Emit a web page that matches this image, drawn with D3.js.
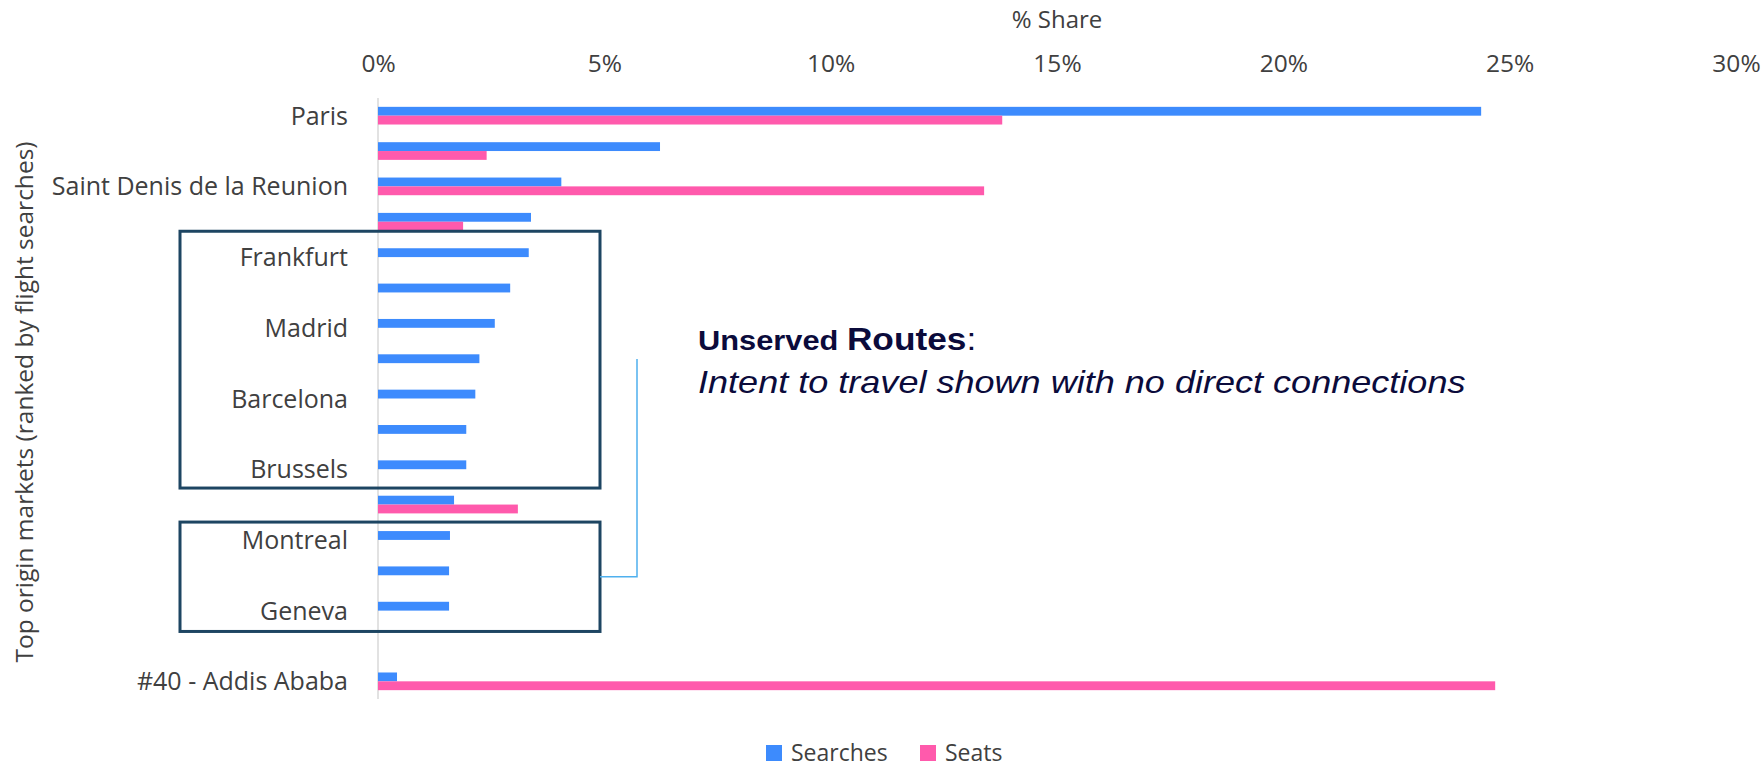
<!DOCTYPE html>
<html>
<head>
<meta charset="utf-8">
<script src="https://cdn.jsdelivr.net/npm/d3@7"></script>
<style>
  body { margin: 0; background: #fff; }
  svg { display: block; font-family: "Open Sans", sans-serif; }
</style>
</head>
<body>
<svg width="1763" height="768"></svg>
<script>
// Data (share, as fractions)
var markets = ["Paris", "", "Saint Denis de la Reunion", "", "Frankfurt", "", "Madrid", "",
	"Barcelona", "", "Brussels", "", "Montreal", "", "Geneva", "", "#40 - Addis Ababa"];
var searches = [0.2437, 0.0623, 0.0405, 0.0338, 0.0333, 0.0292, 0.0258, 0.0224,
	0.0215, 0.0195, 0.0195, 0.0168, 0.0159, 0.0157, 0.0157, null, 0.0042];
var seats = [0.1379, 0.0240, 0.1339, 0.0188, 0, 0, 0, 0,
	0, 0, 0, 0.0309, 0, 0, 0, null, 0.2468];
var series = ["Searches", "Seats"];
var xTicks = [0, 0.05, 0.10, 0.15, 0.20, 0.25, 0.30];

var colors = { Searches: "#3d8bfd", Seats: "#ff5aac" };
var textColor = "#404040";

var svg = d3.select("svg");

// Scales
var x = d3.scaleLinear().domain([0, 0.30]).range([378, 1736]);
var y = d3.scaleBand()
	.domain(d3.range(markets.length))
	.range([98, 699])
	.paddingInner(0.5)
	.paddingOuter(0.25);
var ySub = d3.scaleBand().domain(series).range([0, y.bandwidth()]);

// Top axis
var xAxis = svg.append("g")
	.attr("transform", "translate(0,72)")
	.call(d3.axisTop(x).tickValues(xTicks).tickFormat(d3.format(".0%")).tickSize(0).tickPadding(0));
xAxis.select(".domain").remove();
xAxis.selectAll("text")
	.attr("font-family", "Open Sans")
	.attr("font-size", 24.5)
	.attr("fill", textColor);

// Category axis line at 0%
svg.append("line")
	.attr("x1", x(0)).attr("x2", x(0))
	.attr("y1", y.range()[0]).attr("y2", y.range()[1])
	.attr("stroke", "#d9d9d9")
	.attr("stroke-width", 1.5);

// Bars
var rows = markets.map((m, i) => ({ i: i, name: m, Searches: searches[i], Seats: seats[i] }));
var row = svg.append("g").selectAll("g")
	.data(rows)
	.enter().append("g")
	.attr("transform", (d) => "translate(0," + y(d.i) + ")");
row.selectAll("rect")
	.data((d) => series.map((s) => ({ key: s, value: d[s] })).filter((e) => e.value))
	.enter().append("rect")
	.attr("x", x(0))
	.attr("y", (e) => ySub(e.key))
	.attr("width", (e) => x(e.value) - x(0))
	.attr("height", ySub.bandwidth())
	.attr("fill", (e) => colors[e.key]);

// Category labels
svg.append("g").selectAll("text")
	.data(rows.filter((d) => d.name))
	.enter().append("text")
	.attr("x", 348)
	.attr("y", (d) => y(d.i) + y.bandwidth() / 2)
	.attr("dy", "0.36em")
	.attr("text-anchor", "end")
	.attr("font-size", 25)
	.attr("fill", textColor)
	.text((d) => d.name);

// Axis titles
svg.append("text")
	.attr("x", (x.range()[0] + x.range()[1]) / 2)
	.attr("y", 28)
	.attr("text-anchor", "middle")
	.attr("font-size", 24)
	.attr("fill", textColor)
	.text("% Share");

svg.append("text")
	.attr("transform", "translate(33,402) rotate(-90)")
	.attr("text-anchor", "middle")
	.attr("font-size", 24.5)
	.attr("fill", textColor)
	.text("Top origin markets (ranked by flight searches)");

// Group boxes (unserved routes)
var boxes = [
	{ from: 4, to: 10, top: 17, bottom: 10 },
	{ from: 12, to: 14, top: 9, bottom: 12 }
];
svg.append("g").selectAll("rect")
	.data(boxes)
	.enter().append("rect")
	.attr("x", 180)
	.attr("width", 420)
	.attr("y", (b) => y(b.from) - b.top)
	.attr("height", (b) => y(b.to) + y.bandwidth() + b.bottom - (y(b.from) - b.top))
	.attr("fill", "none")
	.attr("stroke", "#1d4562")
	.attr("stroke-width", 3);

// Bracket from second box to the note
var b2 = boxes[1];
var bracketY = ((y(b2.from) - b2.top) + (y(b2.to) + y.bandwidth() + b2.bottom)) / 2;
svg.append("path")
	.attr("d", "M600," + bracketY + "H637V359")
	.attr("fill", "none")
	.attr("stroke", "#4fb0ee")
	.attr("stroke-width", 1.5);

// Note
var note = svg.append("g")
	.attr("transform", "translate(698,0) scale(1.12,1)")
	.attr("font-family", "Liberation Sans, Arial, sans-serif")
	.attr("fill", "#0b0b3b");
var t1 = note.append("text").attr("y", 350);
t1.append("tspan").attr("font-weight", "bold").attr("font-size", 27.5).text("Unserved ");
t1.append("tspan").attr("font-weight", "bold").attr("font-size", 31.5).text("Routes");
t1.append("tspan").attr("font-size", 31.5).text(":");
note.append("text")
	.attr("y", 393)
	.attr("font-style", "italic")
	.attr("font-size", 32.2)
	.text("Intent to travel shown with no direct connections");

// Legend
var legendX = { Searches: 766, Seats: 920 };
var legend = svg.append("g").selectAll("g")
	.data(series)
	.enter().append("g")
	.attr("transform", (s) => "translate(" + legendX[s] + ",745)");
legend.append("rect")
	.attr("width", 16).attr("height", 16)
	.attr("fill", (s) => colors[s]);
legend.append("text")
	.attr("x", 25)
	.attr("y", 8)
	.attr("dy", "0.36em")
	.attr("font-size", 23)
	.attr("fill", textColor)
	.text((s) => s);
</script>
</body>
</html>
